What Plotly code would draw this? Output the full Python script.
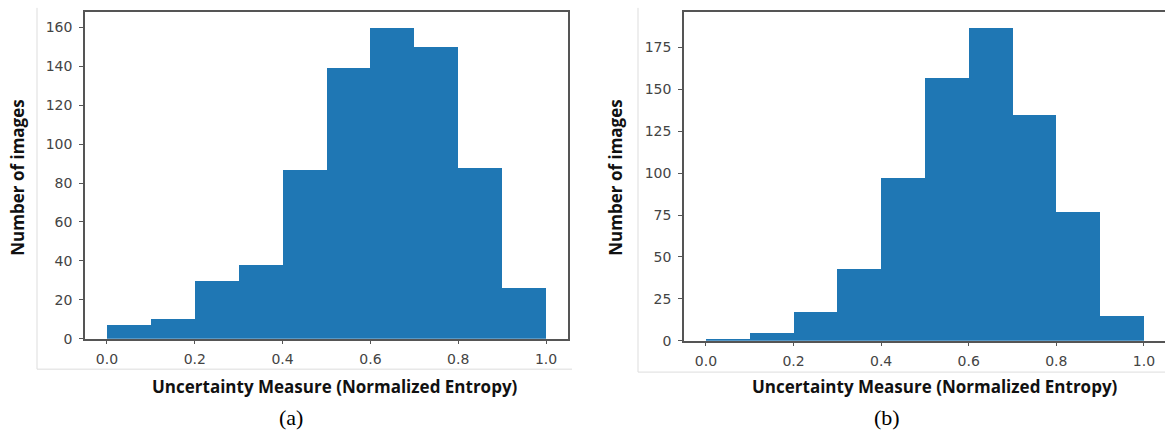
import plotly.graph_objects as go

# ---- data ----
bin_edges = [0.0, 0.1, 0.2, 0.3, 0.4, 0.5, 0.6, 0.7, 0.8, 0.9, 1.0]
counts_a = [7, 10, 30, 38, 87, 139, 160, 150, 88, 26]
counts_b = [1, 5, 17, 43, 97, 157, 187, 135, 77, 15]
x_ticks = [0.0, 0.2, 0.4, 0.6, 0.8, 1.0]
x_tick_text = ["0.0", "0.2", "0.4", "0.6", "0.8", "1.0"]
y_ticks_a = [0, 20, 40, 60, 80, 100, 120, 140, 160]
y_ticks_b = [0, 25, 50, 75, 100, 125, 150, 175]
x_title = "Uncertainty Measure (Normalized Entropy)"
y_title = "Number of images"
captions = ["(a)", "(b)"]

W, H = 1165, 440
BAR = "#1f77b4"
FRAME = "#555555"
TICKFONT = dict(family="DejaVu Sans", size=14, color="#444444")
TITLEFONT = dict(family="Open Sans", size=17, color="#111111")

centers = [(bin_edges[i] + bin_edges[i + 1]) / 2 for i in range(len(bin_edges) - 1)]
widths = [bin_edges[i + 1] - bin_edges[i] for i in range(len(bin_edges) - 1)]

fig = go.Figure()
fig.add_trace(go.Bar(x=centers, y=counts_a, width=widths, marker=dict(color=BAR, line=dict(width=0)),
                     xaxis="x", yaxis="y", showlegend=False))
fig.add_trace(go.Bar(x=centers, y=counts_b, width=widths, marker=dict(color=BAR, line=dict(width=0)),
                     xaxis="x2", yaxis="y2", showlegend=False))

def px_x(p):
    return p / W

def px_y(p):
    return 1 - p / H

xcommon = dict(tickmode="array", tickvals=x_ticks, ticktext=x_tick_text, ticks="outside", ticklen=4,
               tickcolor=FRAME, tickwidth=1, showline=True, linecolor=FRAME, linewidth=1.5,
               mirror=True, showgrid=False, zeroline=False, tickfont=TICKFONT, ticklabelstandoff=3)
ycommon = dict(tickmode="array", ticks="outside", ticklen=4, tickcolor=FRAME, tickwidth=1,
               showline=True, linecolor=FRAME, linewidth=1.5, showgrid=False, zeroline=False,
               tickfont=TICKFONT, ticklabelstandoff=4)

fig.update_layout(
    width=W, height=H, margin=dict(l=0, r=0, t=0, b=0),
    paper_bgcolor="white", plot_bgcolor="white", bargap=0,
    xaxis=dict(domain=[px_x(85), px_x(568)], range=[-0.05, 1.05], anchor="y", **xcommon),
    yaxis=dict(domain=[px_y(345), px_y(12)], range=[0, 168], anchor="x", tickvals=y_ticks_a,
               mirror=True, **ycommon),
    xaxis2=dict(domain=[px_x(684), 1.0], range=[-0.05, -0.05 + (W - 684) / 438.0], anchor="y2", **xcommon),
    yaxis2=dict(domain=[px_y(347), px_y(12)], range=[0, 187 * 1.05], anchor="x2", tickvals=y_ticks_b,
                **ycommon),
)

shapes = []
# light outer borders of the screenshots
for (xl, xr, yb) in [(37, 572, 376), (638, 1165, 379)]:
    shapes.append(dict(type="line", xref="paper", yref="paper", x0=px_x(xl), x1=px_x(xl),
                       y0=px_y(8), y1=px_y(yb), line=dict(color="#dddddd", width=1)))
    shapes.append(dict(type="line", xref="paper", yref="paper", x0=px_x(xl), x1=px_x(xr),
                       y0=px_y(yb), y1=px_y(yb), line=dict(color="#dddddd", width=1)))
fig.update_layout(shapes=shapes)

ann = []
for (xt, cx, cap_x) in [(18, 335, 291), (616, 935, 887)]:
    ann.append(dict(text="<b>" + y_title + "</b>", x=px_x(xt), y=px_y(181), xref="paper", yref="paper",
                    textangle=-90, showarrow=False, font=TITLEFONT, xanchor="center", yanchor="middle"))
    ann.append(dict(text="<b>" + x_title + "</b>", x=px_x(cx), y=px_y(394), xref="paper", yref="paper",
                    showarrow=False, font=TITLEFONT, xanchor="center", yanchor="middle"))
for cap, cx in zip(captions, [291, 887]):
    ann.append(dict(text=cap, x=px_x(cx), y=px_y(425), xref="paper", yref="paper", showarrow=False,
                    font=dict(family="Liberation Serif", size=22, color="#000000"),
                    xanchor="center", yanchor="middle"))
fig.update_layout(annotations=ann)

fig.write_html("out.html", config={"displayModeBar": False},
               post_script="document.body.style.margin='0';document.body.style.overflow='hidden';")
